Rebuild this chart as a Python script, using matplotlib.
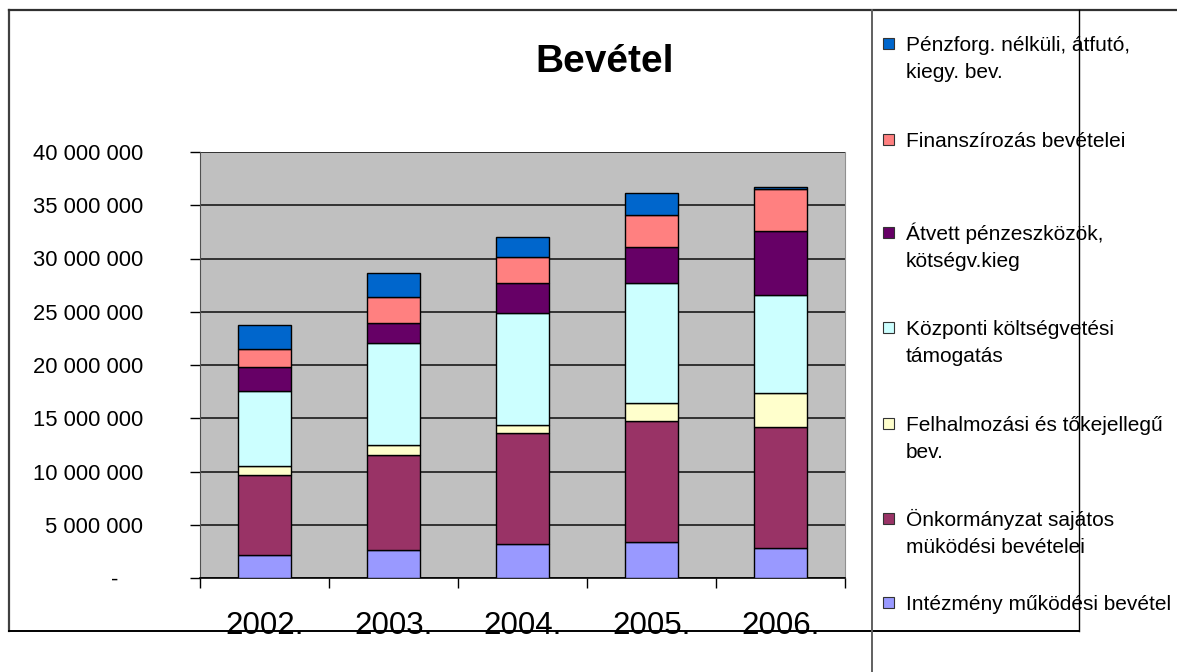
import numpy as np
import matplotlib
matplotlib.use("Agg")
import matplotlib.pyplot as plt
from matplotlib.lines import Line2D
from matplotlib.patches import Rectangle
from matplotlib.ticker import FixedLocator, FuncFormatter

plt.rcParams['font.family'] = ['Liberation Sans', 'DejaVu Sans']

years = ['2002.', '2003.', '2004.', '2005.', '2006.']

# series from bottom of the stack to top
intezmeny = [2.19, 2.60, 3.16, 3.35, 2.79]
onkorm = [7.51, 8.95, 10.49, 11.42, 11.42]
felhalm = [0.79, 0.94, 0.72, 1.69, 3.19]
kozponti = [7.07, 9.55, 10.48, 11.21, 9.15]
atvett = [2.22, 1.88, 2.82, 3.38, 6.00]
finansz = [1.69, 2.44, 2.44, 3.00, 3.95]
penzforg = [2.26, 2.25, 1.88, 2.07, 0.18]

names = ['Intézmény működési bevétel',
         'Önkormányzat sajátos\nmüködési bevételei',
         'Felhalmozási és tőkejellegű\nbev.',
         'Központi költségvetési\ntámogatás',
         'Átvett pénzeszközök,\nkötségv.kieg',
         'Finanszírozás bevételei',
         'Pénzforg. nélküli, átfutó,\nkiegy. bev.']
colors = ['#9999FF', '#993366', '#FFFFCC', '#CCFFFF', '#660066', '#FF8080', '#0066CC']
series = [intezmeny, onkorm, felhalm, kozponti, atvett, finansz, penzforg]

W, H = 1177, 672
fig = plt.figure(figsize=(W / 100, H / 100), dpi=100)
ax = fig.add_axes([200 / W, 1 - 578 / H, 645 / W, 426 / H])
ax.set_facecolor('#C0C0C0')

x = np.arange(len(years))
bottom = np.zeros(len(years))
for vals, col in zip(series, colors):
    v = np.array(vals) * 1e6
    ax.bar(x, v, 0.41, bottom=bottom, color=col, edgecolor='black', linewidth=1, zorder=3)
    bottom += v

ax.set_xlim(-0.5, len(years) - 0.5)
ax.set_ylim(0, 40e6)
ax.set_yticks(np.arange(0, 40e6 + 1, 5e6))
ax.yaxis.set_major_formatter(FuncFormatter(
    lambda v, p: '-    ' if v == 0 else f'{v:,.0f}'.replace(',', ' ')))
ax.grid(axis='y', color='#1a1a1a', linewidth=1.2, zorder=1)
ax.set_axisbelow(True)

ax.set_xticks(x)
ax.set_xticklabels(years)
ax.xaxis.set_minor_locator(FixedLocator(np.arange(-0.5, len(years), 1)))
ax.tick_params(axis='x', which='major', length=0, pad=24, labelsize=22.5)
ax.tick_params(axis='x', which='minor', length=7.2, width=1, color='black')
ax.tick_params(axis='y', length=7.2, width=1, color='black', pad=34, labelsize=15.8)

ax.spines['top'].set_visible(False)
ax.spines['right'].set_color('#909090')
ax.spines['left'].set_color('#505050')
ax.spines['bottom'].set_color('black')
ax.spines['bottom'].set_linewidth(1.2)

fig.text(605 / W, 1 - 72 / H, 'Bevétel', ha='center', va='baseline',
         fontsize=28, fontweight='bold')

# outer frame and legend box lines
def fline(x0, y0, x1, y1, c, lw):
    fig.add_artist(Line2D([x0 / W, x1 / W], [1 - y0 / H, 1 - y1 / H],
                          transform=fig.transFigure, color=c, linewidth=lw))

fline(9, 10, 9, 631, '#404040', 1.6)
fline(9, 10, W, 10, '#303030', 1.6)
fline(1079, 10, 1079, 631, 'black', 1)
fline(9, 631, 1079, 631, 'black', 1.4)
fline(872, 10, 872, H, '#606060', 1.4)

# legend, top entry first; baseline of the first line of each entry
baselines = [51, 147, 240, 335, 431, 526, 610]
for yb, name, col in zip(baselines, names[::-1], colors[::-1]):
    fig.add_artist(Rectangle((883 / W, 1 - (yb - 2) / H), 11 / W, 11 / H,
                             transform=fig.transFigure, facecolor=col,
                             edgecolor='#333333', linewidth=0.8))
    for i, line in enumerate(name.split('\n')):
        fig.text(906 / W, 1 - (yb + 27 * i) / H, line, ha='left', va='baseline',
                 fontsize=15)

fig.savefig('out.png', dpi=100)
